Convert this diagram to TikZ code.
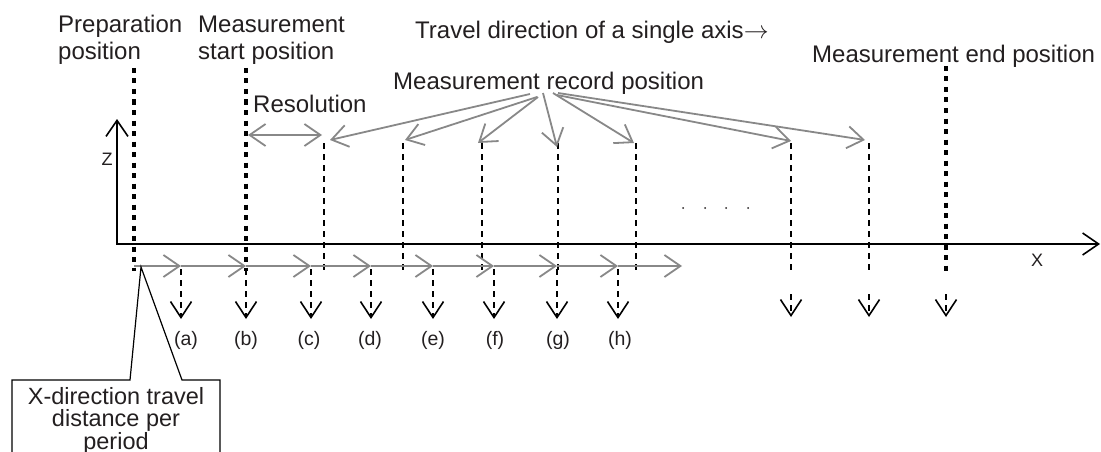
\documentclass[tikz,border=0pt]{standalone}
\usepackage{fontspec}
\setmainfont{Liberation Sans}
\usepackage{tikz}
\usetikzlibrary{arrows.meta}
\definecolor{linegray}{RGB}{136,136,136}
\definecolor{inkblack}{RGB}{35,31,32}

\begin{document}
\begin{tikzpicture}[x=1pt, y=-1pt,
    txt/.style={font=\fontsize{24}{27.5}\selectfont, inner sep=0pt, align=left, text=inkblack},
    tag/.style={font=\fontsize{19.5}{22}\selectfont, inner sep=0pt, text=inkblack},
    axname/.style={font=\fontsize{18}{20}\selectfont, inner sep=0pt, text=inkblack},
    axis/.style={line width=1.6pt, {Straight Barb[length=16pt, width=22pt]}-{Straight Barb[length=16pt, width=22pt]}},
    posline/.style={line width=4pt, dash pattern=on 5pt off 5.5pt},
    recline/.style={line width=1.6pt, dash pattern=on 5.5pt off 5.5pt},
    drop/.style={recline, -{Straight Barb[length=16pt, width=21pt]}},
    travel/.style={draw=linegray, line width=1.8pt, -{Straight Barb[length=16pt, width=22pt]}},
    callout/.style={line width=1.2pt, line join=miter}]

    \useasboundingbox (0,0) rectangle (1101,452);

    % texts on top (base = last line)
    \node[txt, anchor=base west] (prep) at (58,60) {Preparation\\position};
    \node[txt, anchor=base west] (start) at (198,60) {Measurement\\start position};
    \node[txt, anchor=base west] (dir) at (415,39) {Travel direction of a single axis\ensuremath{\rightarrow}};
    \node[txt, anchor=base west] (endpos) at (812,63) {Measurement end position};
    \node[txt, anchor=base west] (rec) at (393,90) {Measurement record position};
    \node[txt, anchor=base west] (res) at (253,113) {Resolution};

    % axes
    \coordinate (o) at (117,244);
    \coordinate (zend) at (117,119);
    \coordinate (xend) at (1100,244);
    \draw[axis] (zend) -- (o) -- (xend);
    \node[axname] (zlab) at (107,159) {Z};
    \node[axname] (xlab) at (1037,260) {X};

    % preparation, start and end positions
    \foreach \px/\name/\top in {134/prep/68, 246/start/68, 946/endpos/66} {
        \coordinate (\name-top) at (\px,\top);
        \coordinate (\name-bot) at (\px,271);
        \draw[posline] (\name-top) -- (\name-bot);
    }

    % resolution
    \coordinate (res-l) at (248,135);
    \coordinate (res-r) at (322,135);
    \draw[travel, {Straight Barb[length=16pt, width=22pt]}-{Straight Barb[length=16pt, width=22pt]}] (res-l) -- (res-r);

    % record positions
    \foreach \sx/\sy/\tx/\ty/\lx [count=\i] in {530/94/330/140/324, 537/97/405/140/403, 538/97/478/143/482,
            543/93/557/147/558, 553/93/634/143/636, 557/95/791/141/791, 558/93/865/140/869} {
        \coordinate (src\i) at (\sx,\sy);
        \coordinate (hit\i) at (\tx,\ty);
        \coordinate (rtop\i) at (\lx,143);
        \coordinate (rbot\i) at (\lx,272);
        \draw[recline] (rtop\i) -- (rbot\i);
        \draw[travel] (src\i) -- (hit\i);
    }
    \foreach \dx [count=\i] in {683,705,726,748}
        \fill[inkblack] (\dx,208) circle (1pt) coordinate (dot\i);

    % travel per period
    \coordinate (p0) at (134,266);
    \foreach \px [count=\i] in {181,246,311,371,433,494,557,618,682}
        \coordinate (p\i) at (\px,266);
    \foreach \i [remember=\i as \last (initially 0)] in {1,...,9}
        \draw[travel] (p\last) -- (p\i);

    \foreach \px/\lab/\lx in {181/a/186,246/b/246,311/c/309,371/d/370,433/e/433,494/f/495,557/g/558,618/h/620} {
        \coordinate (top-\lab) at (\px,269);
        \coordinate (tip-\lab) at (\px,319);
        \draw[drop] (top-\lab) -- (tip-\lab);
        \node[tag] (lab-\lab) at (\lx,340) {(\lab)};
    }
    \foreach \px [count=\i] in {791,869,946} {
        \coordinate (top-r\i) at (\px,294);
        \coordinate (tip-r\i) at (\px,317);
        \draw[drop] (top-r\i) -- (tip-r\i);
    }

    % callout box
    \coordinate (cal-tip) at (141,267);
    \draw[callout] (12,470) -- (12,380) -- (130,380) -- (cal-tip) -- (182,380) -- (220,380) -- (220,470);
    \node[txt, align=center, anchor=base, font=\fontsize{23.5}{22.5}\selectfont] (xbox) at (116,449)
        {X-direction travel\\distance per\\period};
\end{tikzpicture}
\end{document}
